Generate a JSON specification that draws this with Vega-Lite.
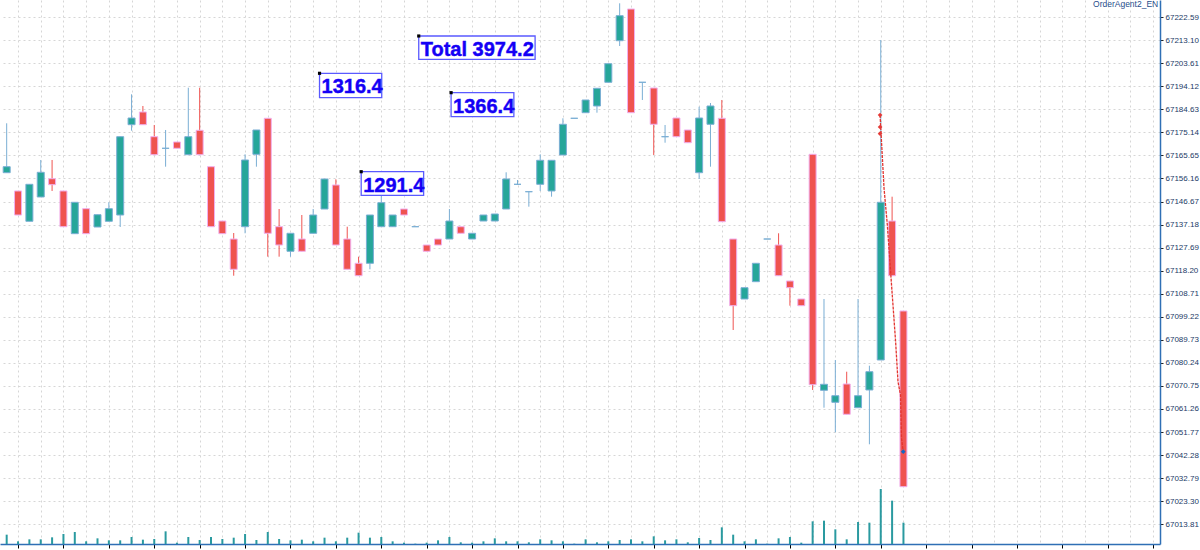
{
  "$schema": "https://vega.github.io/schema/vega-lite/v6.json",
  "width": 1160,
  "height": 544,
  "padding": {"left": 0, "top": 0, "right": 40, "bottom": 6},
  "autosize": {"type": "none"},
  "background": "white",
  "config": {"view": {"stroke": null}, "font": "Liberation Sans"},
  "datasets": {
    "candles": [
      {"i":0,"o":67158.53,"h":67178.87,"l":67158.53,"c":67161.00},
      {"i":1,"o":67151.00,"h":67151.00,"l":67141.11,"c":67141.11},
      {"i":2,"o":67138.52,"h":67153.75,"l":67138.52,"c":67153.75},
      {"i":3,"o":67148.53,"h":67163.76,"l":67148.53,"c":67158.69},
      {"i":4,"o":67156.06,"h":67163.76,"l":67151.00,"c":67153.59},
      {"i":5,"o":67151.00,"h":67151.00,"l":67136.30,"c":67136.30},
      {"i":6,"o":67133.42,"h":67146.34,"l":67133.42,"c":67146.34},
      {"i":7,"o":67143.71,"h":67143.71,"l":67133.42,"c":67133.42},
      {"i":8,"o":67136.17,"h":67141.24,"l":67136.17,"c":67141.24},
      {"i":9,"o":67138.52,"h":67146.34,"l":67138.52,"c":67143.71},
      {"i":10,"o":67141.11,"h":67173.35,"l":67136.17,"c":67173.35},
      {"i":11,"o":67178.29,"h":67190.81,"l":67175.82,"c":67181.05},
      {"i":12,"o":67183.52,"h":67185.99,"l":67178.29,"c":67178.29},
      {"i":13,"o":67173.35,"h":67178.17,"l":67165.94,"c":67165.94},
      {"i":14,"o":67168.58,"h":67176.11,"l":67161.00,"c":67168.58},
      {"i":15,"o":67171.17,"h":67171.17,"l":67168.58,"c":67168.58},
      {"i":16,"o":67165.94,"h":67193.52,"l":67165.94,"c":67173.35},
      {"i":17,"o":67175.99,"h":67193.52,"l":67165.94,"c":67165.94},
      {"i":18,"o":67161.00,"h":67161.00,"l":67136.30,"c":67136.30},
      {"i":19,"o":67138.64,"h":67138.64,"l":67133.42,"c":67133.42},
      {"i":20,"o":67131.23,"h":67133.70,"l":67116.12,"c":67118.76},
      {"i":21,"o":67136.30,"h":67166.10,"l":67133.58,"c":67163.76},
      {"i":22,"o":67166.10,"h":67176.11,"l":67161.00,"c":67176.11},
      {"i":23,"o":67180.93,"h":67180.93,"l":67123.95,"c":67133.58},
      {"i":24,"o":67136.30,"h":67143.58,"l":67123.95,"c":67128.76},
      {"i":25,"o":67126.17,"h":67133.58,"l":67123.95,"c":67133.58},
      {"i":26,"o":67131.23,"h":67141.11,"l":67126.17,"c":67126.17},
      {"i":27,"o":67133.58,"h":67143.58,"l":67133.58,"c":67141.11},
      {"i":28,"o":67143.58,"h":67155.94,"l":67143.58,"c":67155.94},
      {"i":29,"o":67153.47,"h":67155.81,"l":67128.76,"c":67128.76},
      {"i":30,"o":67131.23,"h":67136.30,"l":67118.76,"c":67118.76},
      {"i":31,"o":67121.23,"h":67123.95,"l":67116.12,"c":67116.12},
      {"i":32,"o":67121.23,"h":67141.11,"l":67118.76,"c":67141.11},
      {"i":33,"o":67136.30,"h":67150.58,"l":67136.30,"c":67146.18},
      {"i":34,"o":67136.30,"h":67141.11,"l":67136.30,"c":67141.11},
      {"i":35,"o":67143.58,"h":67143.58,"l":67141.11,"c":67141.11},
      {"i":36,"o":67136.30,"h":67136.30,"l":67136.30,"c":67136.30},
      {"i":37,"o":67128.76,"h":67128.76,"l":67126.17,"c":67126.17},
      {"i":38,"o":67131.23,"h":67131.23,"l":67128.76,"c":67128.76},
      {"i":39,"o":67131.23,"h":67143.58,"l":67131.23,"c":67138.64},
      {"i":40,"o":67136.30,"h":67136.30,"l":67133.58,"c":67133.58},
      {"i":41,"o":67131.23,"h":67133.58,"l":67131.23,"c":67133.58},
      {"i":42,"o":67138.64,"h":67141.11,"l":67138.64,"c":67141.11},
      {"i":43,"o":67138.64,"h":67141.53,"l":67138.64,"c":67141.53},
      {"i":44,"o":67143.58,"h":67158.69,"l":67143.58,"c":67155.94},
      {"i":45,"o":67153.75,"h":67155.52,"l":67153.47,"c":67153.75},
      {"i":46,"o":67150.71,"h":67150.71,"l":67144.53,"c":67150.71},
      {"i":47,"o":67153.75,"h":67166.10,"l":67151.00,"c":67163.64},
      {"i":48,"o":67151.00,"h":67163.64,"l":67148.65,"c":67163.64},
      {"i":49,"o":67165.82,"h":67180.93,"l":67165.82,"c":67178.46},
      {"i":50,"o":67180.93,"h":67180.93,"l":67180.93,"c":67180.93},
      {"i":51,"o":67183.23,"h":67188.46,"l":67183.23,"c":67188.46},
      {"i":52,"o":67185.99,"h":67193.28,"l":67183.23,"c":67193.28},
      {"i":53,"o":67195.75,"h":67203.40,"l":67195.75,"c":67203.40},
      {"i":54,"o":67212.87,"h":67228.27,"l":67210.69,"c":67223.17},
      {"i":55,"o":67225.92,"h":67225.92,"l":67183.23,"c":67183.23},
      {"i":56,"o":67195.75,"h":67195.75,"l":67188.46,"c":67195.75},
      {"i":57,"o":67193.40,"h":67193.40,"l":67165.82,"c":67178.46},
      {"i":58,"o":67173.35,"h":67178.17,"l":67170.88,"c":67173.35},
      {"i":59,"o":67181.05,"h":67181.05,"l":67173.35,"c":67173.35},
      {"i":60,"o":67176.11,"h":67176.11,"l":67170.88,"c":67170.88},
      {"i":61,"o":67158.53,"h":67185.70,"l":67155.94,"c":67181.05},
      {"i":62,"o":67178.46,"h":67187.22,"l":67161.00,"c":67185.99},
      {"i":63,"o":67180.93,"h":67188.46,"l":67138.36,"c":67138.36},
      {"i":64,"o":67131.23,"h":67131.23,"l":67093.77,"c":67103.77},
      {"i":65,"o":67106.53,"h":67111.18,"l":67106.53,"c":67111.18},
      {"i":66,"o":67113.66,"h":67121.23,"l":67113.66,"c":67121.23},
      {"i":67,"o":67131.23,"h":67131.23,"l":67131.23,"c":67131.23},
      {"i":68,"o":67128.76,"h":67133.58,"l":67116.12,"c":67116.12},
      {"i":69,"o":67113.94,"h":67113.94,"l":67103.77,"c":67111.18},
      {"i":70,"o":67106.53,"h":67106.53,"l":67103.77,"c":67103.77},
      {"i":71,"o":67166.10,"h":67166.10,"l":67069.07,"c":67071.25},
      {"i":72,"o":67068.94,"h":67106.53,"l":67061.78,"c":67071.41},
      {"i":73,"o":67064.00,"h":67081.42,"l":67051.65,"c":67066.72},
      {"i":74,"o":67071.54,"h":67076.60,"l":67059.06,"c":67059.06},
      {"i":75,"o":67061.78,"h":67106.53,"l":67061.78,"c":67066.72},
      {"i":76,"o":67069.07,"h":67079.07,"l":67046.71,"c":67076.60},
      {"i":77,"o":67081.42,"h":67213.16,"l":67081.42,"c":67146.34},
      {"i":78,"o":67138.64,"h":67148.65,"l":67116.12,"c":67116.12},
      {"i":79,"o":67101.59,"h":67101.59,"l":67029.26,"c":67029.26}
    ],
    "volumes": [
      {"i":0,"v":28},{"i":1,"v":8},{"i":2,"v":14},{"i":3,"v":14},{"i":4,"v":20},
      {"i":5,"v":30},{"i":6,"v":36},{"i":7,"v":8},{"i":8,"v":17},{"i":9,"v":11},
      {"i":10,"v":11},{"i":11,"v":21},{"i":12,"v":13},{"i":13,"v":15},{"i":14,"v":38},
      {"i":15,"v":4},{"i":16,"v":21},{"i":17,"v":12},{"i":18,"v":21},{"i":19,"v":15},
      {"i":20,"v":19},{"i":21,"v":30},{"i":22,"v":12},{"i":23,"v":36},{"i":24,"v":15},
      {"i":25,"v":11},{"i":26,"v":13},{"i":27,"v":8},{"i":28,"v":19},{"i":29,"v":8},
      {"i":30,"v":19},{"i":31,"v":34},{"i":32,"v":19},{"i":33,"v":21},{"i":34,"v":8},
      {"i":35,"v":4},{"i":36,"v":1},{"i":37,"v":4},{"i":38,"v":11},{"i":39,"v":21},
      {"i":40,"v":5},{"i":41,"v":4},{"i":42,"v":8},{"i":43,"v":17},{"i":44,"v":8},
      {"i":45,"v":8},{"i":46,"v":5},{"i":47,"v":14},{"i":48,"v":11},{"i":49,"v":8},
      {"i":50,"v":1},{"i":51,"v":14},{"i":52,"v":5},{"i":53,"v":8},{"i":54,"v":12},
      {"i":55,"v":14},{"i":56,"v":8},{"i":57,"v":23},{"i":58,"v":11},{"i":59,"v":14},
      {"i":60,"v":5},{"i":61,"v":18},{"i":62,"v":12},{"i":63,"v":50},{"i":64,"v":28},
      {"i":65,"v":8},{"i":66,"v":14},{"i":67,"v":1},{"i":68,"v":17},{"i":69,"v":21},
      {"i":70,"v":4},{"i":71,"v":68},{"i":72,"v":70},{"i":73,"v":44},{"i":74,"v":14},
      {"i":75,"v":66},{"i":76,"v":64},{"i":77,"v":165},{"i":78,"v":130},{"i":79,"v":64}
    ],
    "notes": [
      {"label":"Total 3974.2","x1":36.30,"x2":46.55,"y1":67214.81,"y2":67205.22},
      {"label":"1316.4","x1":27.56,"x2":33.04,"y1":67199.45,"y2":67189.41},
      {"label":"1366.4","x1":39.15,"x2":44.68,"y1":67191.47,"y2":67181.59},
      {"label":"1291.4","x1":31.23,"x2":36.73,"y1":67158.94,"y2":67149.23}
    ],
    "trail": [
      {"i":76.94,"p":67182.28},
      {"i":77.29,"p":67152.10},
      {"i":77.58,"p":67137.00},
      {"i":77.93,"p":67113.65},
      {"i":78.31,"p":67088.95},
      {"i":78.52,"p":67072.49},
      {"i":78.74,"p":67067.01},
      {"i":78.83,"p":67049.18},
      {"i":78.98,"p":67043.67}
    ],
    "markers": [
      {"i":76.94,"p":67182.28,"k":"stop"},
      {"i":76.94,"p":67177.34,"k":"stop"},
      {"i":76.94,"p":67174.59,"k":"stop"},
      {"i":78.98,"p":67043.67,"k":"last"}
    ],
    "tag": [
      {"i":95.7,"p":67227.9,"t":"OrderAgent2_EN"}
    ]
  },
  "layer": [
    {
      "layer": [
        {
          "data": {"name": "candles"},
          "mark": {"type": "rule", "strokeWidth": 1},
          "encoding": {
            "x": {"field": "i", "type": "quantitative", "title": null,
              "scale": {"domain": [-0.1485, 101.16], "nice": false, "zero": false},
              "axis": {
                "values": [1,3,5,7,9,11,13,15,17,19,21,23,25,27,29,31,33,35,37,39,41,43,45,47,49,51,53,55,57,59,61,63,65,67,69,71,73,75,77,79,81,83,85,87,89,91,93,95,97,99,101],
                "tickCount": 80,
                "title": null, "labels": false, "grid": true, "gridColor": "#d6d6d6", "gridDash": [2, 3], "gridWidth": 1,
                "domainColor": "#2f6fb5", "domainWidth": 1.5,
                "tickColor": "#000000", "tickSize": 4,
                "tickOpacity": {"condition": {"test": "datum.value % 4 === 1", "value": 1}, "value": 0}
              }
            },
            "y": {"field": "l", "type": "quantitative", "title": null,
              "scale": {"domain": [67005.66, 67229.63], "nice": false, "zero": false},
              "axis": {
                "orient": "right", "title": null,
                "values": [67013.81,67023.30,67032.79,67042.28,67051.77,67061.26,67070.75,67080.24,67089.73,67099.22,67108.71,67118.20,67127.69,67137.18,67146.67,67156.16,67165.65,67175.14,67184.63,67194.12,67203.61,67213.10,67222.59],
                "tickCount": 40,
                "format": ".2f", "grid": true, "gridColor": "#d6d6d6", "gridDash": [2, 3], "gridWidth": 1,
                "domainColor": "#2f6fb5", "domainWidth": 1.5,
                "tickColor": "#222222", "tickSize": 3,
                "labelOverlap": false, "labelFlush": false, "labelBound": false,
                "labelFont": "Liberation Sans", "labelFontSize": 8, "labelColor": "#1b3a66", "labelPadding": 2
              }
            },
            "y2": {"field": "h"},
            "color": {"condition": {"test": "datum.c >= datum.o", "value": "#7aaed4"}, "value": "#ef5350"}
          }
        },
        {
          "data": {"name": "candles"},
          "mark": {"type": "bar", "width": 7, "strokeWidth": 1},
          "encoding": {
            "x": {"field": "i", "type": "quantitative", "title": null},
            "y": {"field": "o", "type": "quantitative", "title": null},
            "y2": {"field": "c"},
            "color": {"condition": {"test": "datum.c >= datum.o", "value": "#26a69a"}, "value": "#ef5350"},
            "stroke": {"condition": {"test": "datum.c >= datum.o", "value": "#7aaed4"}, "value": "#f0b0ee"}
          }
        },
        {
          "data": {"name": "notes"},
          "mark": {"type": "rect", "fill": "white", "stroke": "#5a5aff", "strokeWidth": 1.3},
          "encoding": {
            "x": {"field": "x1", "type": "quantitative", "title": null},
            "x2": {"field": "x2"},
            "y": {"field": "y1", "type": "quantitative", "title": null},
            "y2": {"field": "y2"}
          }
        },
        {
          "data": {"name": "notes"},
          "mark": {"type": "text", "font": "Liberation Sans", "fontWeight": "bold", "fontSize": 20, "align": "left", "baseline": "alphabetic", "dx": 2, "dy": 20, "color": "#1400f5", "stroke": "#1400f5", "strokeWidth": 0.4},
          "encoding": {
            "x": {"field": "x1", "type": "quantitative", "title": null},
            "y": {"field": "y1", "type": "quantitative", "title": null},
            "text": {"field": "label"}
          }
        },
        {
          "data": {"name": "notes"},
          "mark": {"type": "point", "shape": "square", "filled": true, "size": 10, "color": "#000000", "opacity": 1},
          "encoding": {
            "x": {"field": "x1", "type": "quantitative", "title": null},
            "y": {"field": "y1", "type": "quantitative", "title": null}
          }
        },
        {
          "data": {"name": "trail"},
          "mark": {"type": "line", "color": "#e3342f", "strokeWidth": 1.3, "strokeDash": [3, 1]},
          "encoding": {
            "x": {"field": "i", "type": "quantitative", "title": null},
            "y": {"field": "p", "type": "quantitative", "title": null}
          }
        },
        {
          "data": {"name": "markers"},
          "mark": {"type": "point", "shape": "diamond", "filled": true, "opacity": 1, "size": 22},
          "encoding": {
            "x": {"field": "i", "type": "quantitative", "title": null},
            "y": {"field": "p", "type": "quantitative", "title": null},
            "color": {"field": "k", "type": "nominal", "scale": {"domain": ["stop", "last"], "range": ["#e53935", "#1565c0"]}, "legend": null}
          }
        },
        {
          "data": {"name": "tag"},
          "mark": {"type": "text", "font": "Liberation Sans", "fontSize": 8.5, "align": "left", "baseline": "middle", "color": "#1f4e8c"},
          "encoding": {
            "x": {"field": "i", "type": "quantitative", "title": null},
            "y": {"field": "p", "type": "quantitative", "title": null},
            "text": {"field": "t"}
          }
        }
      ]
    },
    {
      "data": {"name": "volumes"},
      "mark": {"type": "bar", "width": 2, "color": "#2a9aa0"},
      "encoding": {
        "x": {"field": "i", "type": "quantitative", "title": null},
        "y": {"field": "v", "type": "quantitative", "title": null, "scale": {"domain": [0, 1632], "nice": false}, "axis": null}
      }
    }
  ],
  "resolve": {"scale": {"y": "independent", "color": "independent"}}
}
